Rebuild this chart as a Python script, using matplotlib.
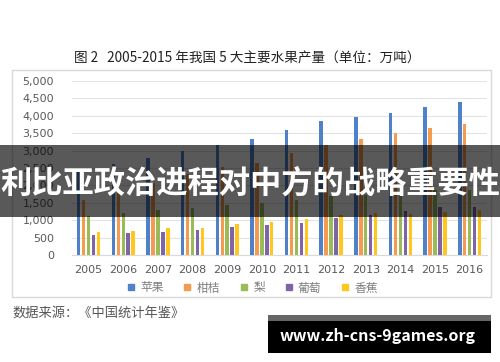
import numpy as np
import matplotlib
matplotlib.use("Agg")
import matplotlib.pyplot as plt
from matplotlib.lines import Line2D
from matplotlib.patches import Rectangle

plt.rcParams['font.family'] = ['Noto Sans CJK SC', 'DejaVu Sans']

# 数据（万吨）
years = ["2005", "2006", "2007", "2008", "2009", "2010",
         "2011", "2012", "2013", "2014", "2015", "2016"]
apple = [2401, 2606, 2786, 2985, 3168, 3326, 3598, 3849, 3968, 4092, 4261, 4388]
citrus = [1592, 1790, 2058, 2331, 2521, 2645, 2944, 3168, 3321, 3493, 3660, 3765]
pear = [1132, 1199, 1290, 1354, 1426, 1506, 1580, 1707, 1730, 1796, 1870, 1870]
grape = [579, 627, 670, 715, 794, 855, 907, 1054, 1155, 1255, 1367, 1375]
banana = [652, 690, 780, 784, 883, 956, 1040, 1156, 1208, 1179, 1247, 1300]

names = ["苹果", "柑桔", "梨", "葡萄", "香蕉"]
colors = ["#4F81C8", "#F59A4E", "#9BBB59", "#8064A8", "#FFC61E"]
series = [apple, citrus, pear, grape, banana]

W, H = 500, 362
fig = plt.figure(figsize=(5, 3.62), dpi=100)
fig.patch.set_facecolor("white")

# chart frame
fig.patches.append(Rectangle((12 / W, 1 - 297 / H), 479 / W, 227 / H,
                             transform=fig.transFigure, fill=False,
                             edgecolor="#d9d9d9", linewidth=1, zorder=0))

ax = fig.add_axes([72 / W, 1 - 255 / H, 415 / W, 174 / H])
x = np.arange(len(years))
pitch, width = 0.143, 0.10
for i, (vals, c) in enumerate(zip(series, colors)):
    ax.bar(x + (i - 2) * pitch, vals, width=width, color=c, zorder=3)

ax.set_xlim(-0.48, 11.5)
ax.set_ylim(0, 5000)
ax.set_yticks(range(0, 5001, 500))
ax.set_yticklabels([f"{v:,}" for v in range(0, 5001, 500)], family="DejaVu Sans")
ax.set_xticks(x)
ax.set_xticklabels(years, family="DejaVu Sans")
ax.tick_params(length=0, labelsize=8, colors="#595959")
ax.tick_params(axis="y", pad=13)
ax.tick_params(axis="x", pad=7)
ax.grid(axis="y", color="#e3e3e3", linewidth=0.8, zorder=0)
for s in ["top", "right", "left"]:
    ax.spines[s].set_visible(False)
ax.spines["bottom"].set_color("#d9d9d9")

handles = [Line2D([], [], marker="s", linestyle="", color=c, markersize=5)
           for c in colors]
fig.legend(handles, names, loc="center", bbox_to_anchor=(0.503, 1 - 288 / H),
           ncol=5, frameon=False, fontsize=8.5, labelcolor="#7f7f7f",
           handlelength=1.0, handletextpad=0.3, columnspacing=1.5)

fig.text(0.495, 1 - 58 / H, "图 2   2005-2015 年我国 5 大主要水果产量（单位：万吨）",
         ha="center", va="center", fontsize=9.8, color="#222222")
fig.text(12 / W, 1 - 313 / H, "数据来源：《中国统计年鉴》",
         ha="left", va="center", fontsize=9.5, color="#555555")

# overlay banner
fig.patches.append(Rectangle((0, 1 - 217 / H), 1, 72 / H, transform=fig.transFigure,
                             facecolor="black", alpha=0.65, zorder=10))
fig.text(0.5, 1 - 184 / H, "利比亚政治进程对中方的战略重要性", ha="center", va="center",
         fontsize=22.5, fontweight="bold", color="white", zorder=11)

# watermark
fig.patches.append(Rectangle((268 / W, 1 - 321 / H), 223 / W, 6 / H,
                             transform=fig.transFigure, facecolor="#666666", zorder=10))
fig.patches.append(Rectangle((268 / W, 1 - 353 / H), 223 / W, 32 / H,
                             transform=fig.transFigure, facecolor="black", zorder=10))
fig.text(378 / W, 1 - 336 / H, "www.zh-cns-9games.org", ha="center", va="center",
         fontsize=11.5, fontweight="bold", color="white", zorder=11)

fig.savefig("out.png", dpi=100)
